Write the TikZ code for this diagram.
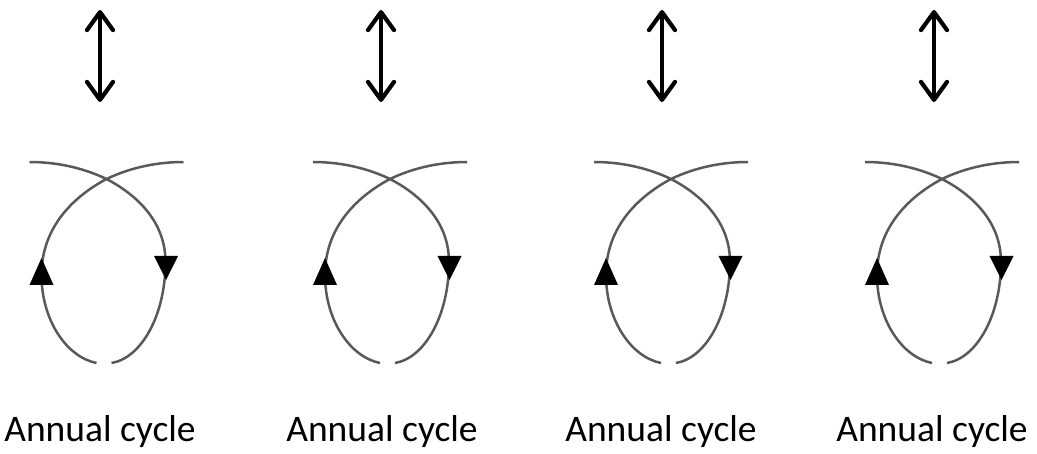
\documentclass[tikz,border=0pt]{standalone}
\usepackage{fontspec}
\setmainfont{Carlito}
\usetikzlibrary{arrows.meta}
\tikzset{
  loopline/.style={draw=black!65, line width=2.5pt},
  dblarrow/.style={line width=4.2pt, {Straight Barb[length=18pt,width=26pt,round]}-{Straight Barb[length=18pt,width=26pt,round]}},
  headfill/.style={fill=black},
  caption/.style={font=\fontsize{37.5}{44}\selectfont, anchor=base, inner sep=0pt}
}
\begin{document}
\begin{tikzpicture}[x=1pt,y=-1pt]
\useasboundingbox (0,0) rectangle (1037,454);
\foreach \i/\ax/\cx/\tx in {1/100/106.5/100, 2/381/390/382, 3/662/671/661, 4/934/942/932}{
  \coordinate (up\i) at (\ax,10);
  \coordinate (dn\i) at (\ax,102);
  \draw[dblarrow] (dn\i) -- (up\i);
  \begin{scope}[shift={(\cx,0)}]
    % strand from top-right end down the left side
    \draw[loopline] (77,162) .. controls (52,162) and (25,167) .. (0,179)
       .. controls (-30,195) and (-65,225) .. (-65,275)
       .. controls (-65,320) and (-40,357) .. (-10,363);
    % strand from top-left end down the right side
    \draw[loopline] (-77,162) .. controls (-52,162) and (-25,167) .. (0,179)
       .. controls (25,192) and (59,218) .. (59,262)
       .. controls (59,315) and (35,358) .. (5,363);
    % direction marks
    \fill[headfill] (-65,258) -- (-77,285) -- (-53,285) -- cycle;
    \fill[headfill] (59.5,280) -- (47.5,256) -- (71.5,256) -- cycle;
  \end{scope}
  \node[caption] (t\i) at (\tx,442) {Annual cycle};
}
\end{tikzpicture}
\end{document}
